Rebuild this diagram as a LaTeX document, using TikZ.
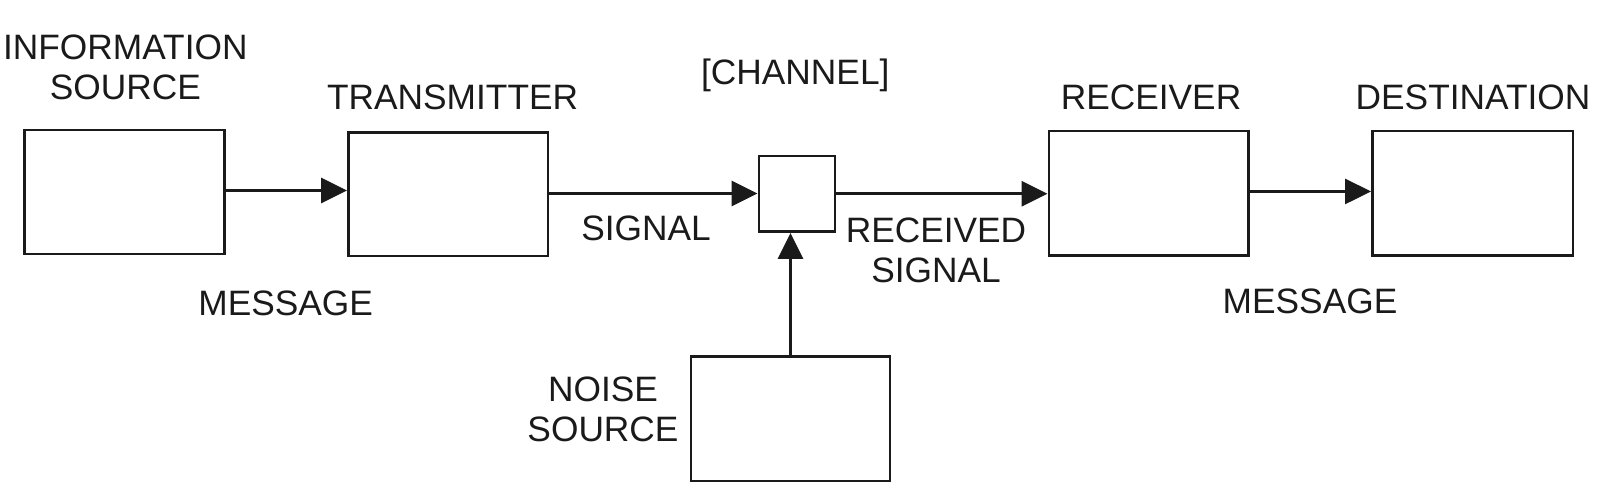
\documentclass[tikz,border=0pt]{standalone}
\usepackage{fontspec}
\setmainfont{Liberation Sans}
\usetikzlibrary{arrows.meta}
\definecolor{ink}{HTML}{1A1A1A}
\begin{document}
\begin{tikzpicture}[x=1pt,y=-1pt,
  blk/.style={draw=ink,line width=2.9pt,minimum width=#1,inner sep=0pt,line join=miter},
  blk/.default=200pt,
  lbl/.style={text=ink,inner sep=0pt,font=\fontsize{35.3}{40}\selectfont,align=center},
  conn/.style={draw=ink,line width=2.8pt,-{Triangle[length=26pt,width=25pt]}}]
\useasboundingbox (0,0) rectangle (1605,489);
\node[blk=199.7pt,minimum height=124pt] (info) at (124.75,192) {};
\node[blk=199.5pt,minimum height=123.5pt] (trans) at (448.25,194.25) {};
\node[blk=76pt,minimum height=75.5pt] (chan) at (797,193.75) {};
\node[blk=199.5pt,minimum height=124.5pt] (recv) at (1148.75,193.25) {};
\node[blk=200.5pt,minimum height=124.5pt] (dest) at (1472.75,193.25) {};
\node[blk=199pt,minimum height=124.5pt] (noise) at (790.5,418.75) {};
% labels
\node[lbl,anchor=north] (linfo) at (125.3,35) {INFORMATION\\SOURCE};
\node[lbl,anchor=base] (ltrans) at (452.6,109.3) {TRANSMITTER};
\node[lbl,anchor=base] (lchan) at (795.3,84.3) {[CHANNEL]};
\node[lbl,anchor=base] (lrecv) at (1151,109.3) {RECEIVER};
\node[lbl,anchor=base] (ldest) at (1473,109.3) {DESTINATION};
\node[lbl,anchor=base] (lsig) at (646,240) {SIGNAL};
\node[lbl,anchor=north] (lrsig) at (936,218) {RECEIVED\\SIGNAL};
\node[lbl,anchor=base] (lmsg1) at (285.7,315) {MESSAGE};
\node[lbl,anchor=base] (lmsg2) at (1310,313.3) {MESSAGE};
\node[lbl,anchor=north] (lnoise) at (603,376.7) {NOISE\\SOURCE};
% connectors
\draw[conn] ([yshift=1.5pt]info.east) -- ([yshift=1.5pt]info.east -| trans.west);
\draw[conn] ([yshift=0.75pt]trans.east) -- ([yshift=0.75pt]trans.east -| chan.west);
\draw[conn] (chan.east) -- (chan.east -| recv.west);
\draw[conn] ([yshift=1.8pt]recv.east) -- ([yshift=1.8pt]recv.east -| dest.west);
\draw[conn] (noise.north) -- (noise.north |- chan.south);
\end{tikzpicture}
\end{document}
